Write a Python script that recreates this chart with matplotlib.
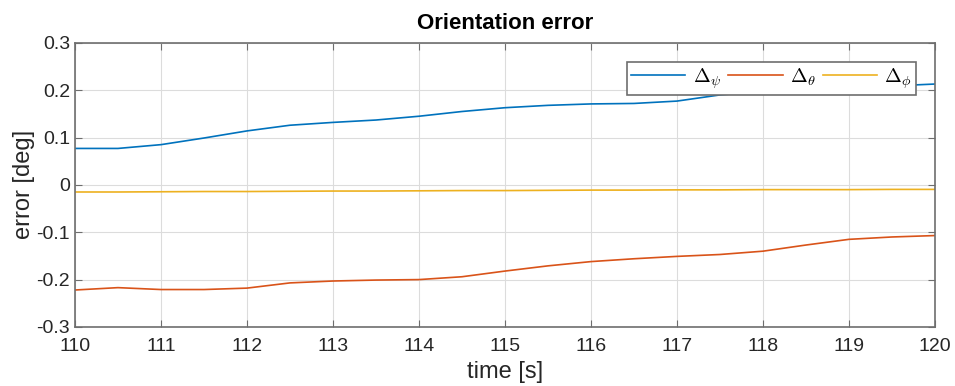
import numpy as np
import matplotlib.pyplot as plt

plt.rcParams['font.family'] = ['Liberation Sans', 'DejaVu Sans']
plt.rcParams['mathtext.fontset'] = 'cm'

# sample times [s]
t = [110.0, 110.5, 111.0, 111.5, 112.0, 112.5, 113.0, 113.5, 114.0, 114.5, 115.0,
     115.5, 116.0, 116.5, 117.0, 117.5, 118.0, 118.5, 119.0, 119.5, 120.0]

# orientation errors [deg]
d_psi = [0.077, 0.077, 0.085, 0.099, 0.114, 0.126, 0.132, 0.137, 0.145, 0.155, 0.163,
         0.168, 0.171, 0.172, 0.177, 0.190, 0.198, 0.203, 0.206, 0.209, 0.213]
d_theta = [-0.222, -0.217, -0.221, -0.221, -0.218, -0.207, -0.203, -0.201, -0.200, -0.194, -0.182,
           -0.171, -0.162, -0.156, -0.151, -0.147, -0.140, -0.127, -0.115, -0.110, -0.107]
d_phi = [-0.015, -0.015, -0.0145, -0.014, -0.014, -0.0135, -0.013, -0.013, -0.0125, -0.012, -0.012,
         -0.0115, -0.011, -0.011, -0.0105, -0.0105, -0.010, -0.010, -0.010, -0.0095, -0.0095]

fig = plt.figure(figsize=(9.55, 3.86), dpi=100)
ax = fig.add_axes([0.0785, 0.153, 0.9005, 0.736])

ax.plot(t, d_psi, color='#0072BD', lw=1.2, label=r'$\Delta_\psi$')
ax.plot(t, d_theta, color='#D95319', lw=1.2, label=r'$\Delta_\theta$')
ax.plot(t, d_phi, color='#EDB120', lw=1.2, label=r'$\Delta_\phi$')

ax.set_xlim(110, 120)
ax.set_ylim(-0.3, 0.3)
ax.set_xticks(np.arange(110, 121, 1))
ax.set_yticks(np.arange(-0.3, 0.31, 0.1))
ax.set_yticklabels(['-0.3', '-0.2', '-0.1', '0', '0.1', '0.2', '0.3'])
ax.grid(True, color='#dcdcdc', lw=0.8)
ax.set_axisbelow(True)

for s in ax.spines.values():
    s.set_color('#6e6e6e')
    s.set_linewidth(1.2)
ax.tick_params(direction='in', length=5, colors='#6e6e6e', labelcolor='#262626',
               labelsize=14, top=True, right=True)
ax.tick_params(axis='x', pad=8)

ax.set_xlabel('time [s]', fontsize=17, color='#262626', labelpad=4)
ax.set_ylabel('error [deg]', fontsize=17, color='#262626', labelpad=1)
ax.set_title('Orientation error', fontsize=16, fontweight='bold', pad=10)

leg = ax.legend(loc='upper right', ncol=3, bbox_to_anchor=(0.978, 0.933), fontsize=14.5,
                frameon=True, fancybox=False, handlelength=2.7, columnspacing=0.35,
                handletextpad=0.35, borderpad=0.2, borderaxespad=0)
leg.get_frame().set_edgecolor('#6e6e6e')
leg.get_frame().set_linewidth(1.2)
leg.get_frame().set_alpha(1)

fig.savefig('out.png', dpi=100)
